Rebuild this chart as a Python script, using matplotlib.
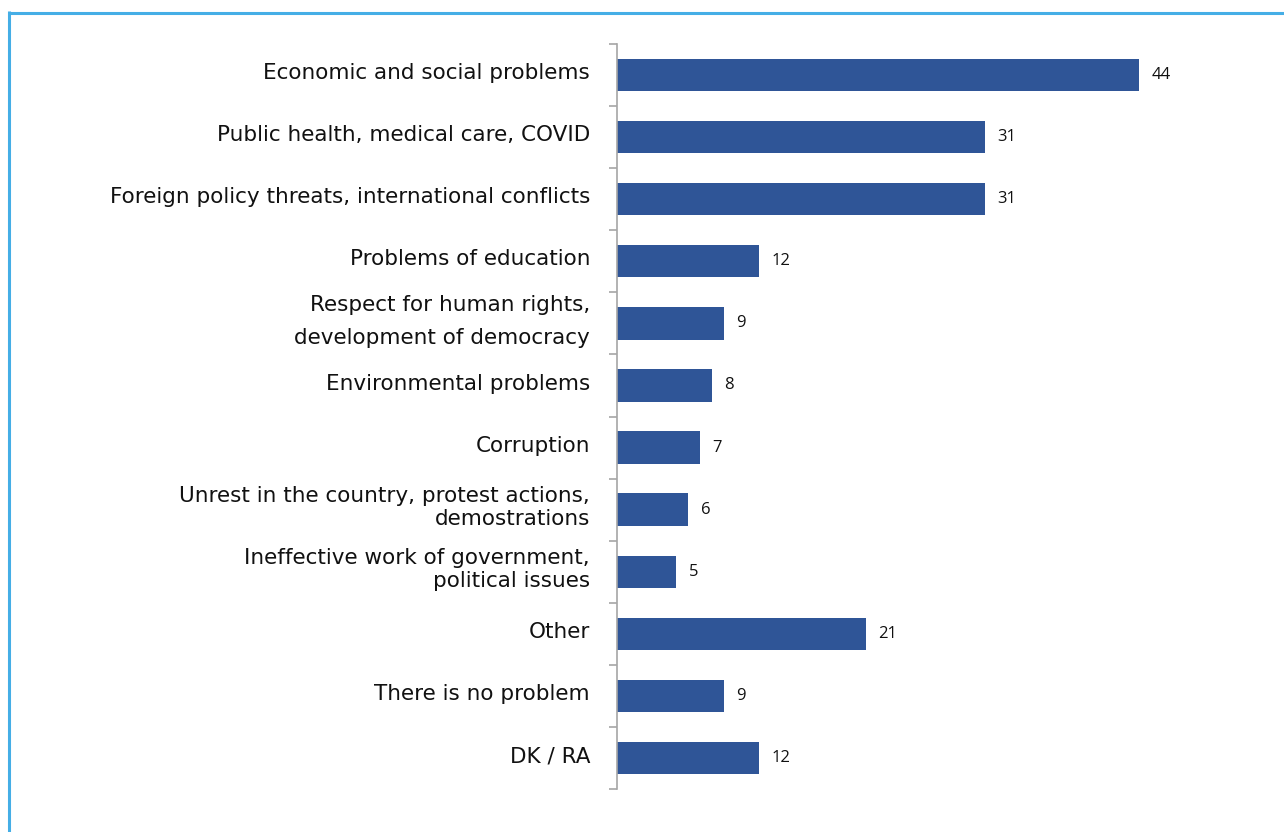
import matplotlib
matplotlib.use("Agg")
import matplotlib.pyplot as plt
from matplotlib.lines import Line2D
import numpy as np

categories = [
    "Economic and social problems",
    "Public health, medical care, COVID",
    "Foreign policy threats, international conflicts",
    "Problems of education",
    "Respect for human rights,\ndevelopment of democracy",
    "Environmental problems",
    "Corruption",
    "Unrest in the country, protest actions,\ndemostrations",
    "Ineffective work of government,\npolitical issues",
    "Other",
    "There is no problem",
    "DK / RA",
]
values = [44, 31, 31, 12, 9, 8, 7, 6, 5, 21, 9, 12]

W, H = 1284, 832
fig = plt.figure(figsize=(W / 100, H / 100), dpi=100)
ax = fig.add_axes([617 / W, 1 - 789 / H, (1210 - 617) / W, (789 - 44) / H])

y = np.arange(len(categories))
ax.barh(y, values, height=0.52, color="#2F5597", zorder=2)
ax.set_ylim(len(categories) - 0.5, -0.5)
ax.set_xlim(0, 50)

for yi, v in zip(y, values):
    ax.annotate(str(v), (v, yi), xytext=(9, 0), textcoords="offset points",
                va="center", ha="left", fontsize=12, family="Open Sans", color="#111111")

ax.set_yticks(y)
ax.set_yticklabels([])
ax.tick_params(axis="y", which="major", length=0)
ax.set_yticks(np.arange(-0.5, len(categories), 1), minor=True)
ax.tick_params(axis="y", which="minor", length=6, width=1.2, color="#A6A6A6", direction="out")
for yi, c in zip(y, categories):
    ls = 1.8 if c.startswith("Respect") else 1.2
    ax.text(-27 / 11.86, yi - 0.03, c, ha="right", va="center", fontsize=15.5,
            family="DejaVu Sans", color="#111111", linespacing=ls)

ax.set_xticks([])
for s in ["top", "right", "bottom"]:
    ax.spines[s].set_visible(False)
ax.spines["left"].set_color("#A6A6A6")
ax.spines["left"].set_linewidth(1.2)

# outer light-blue frame
fig.add_artist(Line2D([9 / W, 9 / W], [0, 1 - 11 / H], transform=fig.transFigure,
                      color="#45AEE6", lw=2.2, solid_capstyle="butt"))
fig.add_artist(Line2D([8 / W, 1], [1 - 12.5 / H, 1 - 12.5 / H], transform=fig.transFigure,
                      color="#45AEE6", lw=2.2, solid_capstyle="butt"))

fig.savefig("out.png", dpi=100)
